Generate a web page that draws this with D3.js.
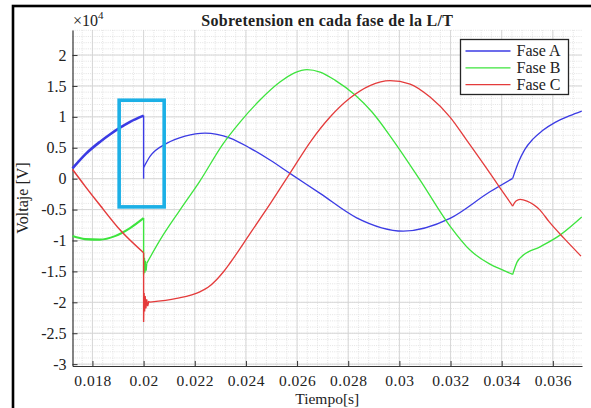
<!DOCTYPE html>
<html lang="es">
<head>
  <meta charset="UTF-8">
  <title>Sobretension en cada fase de la L/T</title>
  <style>
    body { margin: 0; background: #fff; }
    svg { display: block; }
    text { font-family: "Liberation Serif", "Times New Roman", "DejaVu Serif", serif; fill: #222; }
  </style>
</head>
<body>
<div id="chart"></div>
<script src="https://cdn.jsdelivr.net/npm/d3@7"></script>
<script>
  // tiempo [s], voltaje [V]
  const faseA_pre = [[0.01722, 1670], [0.01775, 4060], [0.01829, 5950], [0.01868, 7150], [0.01908, 8250], [0.01947, 9200], [0.02, 10200]];
  const faseA_falla = [[0.02, 10200], [0.02, 0], [0.02, 1800]];
  const faseA_post = [[0.02, 1800], [0.02025, 3600], [0.0209, 5710], [0.02162, 6890], [0.0224, 7380], [0.02338, 6570],
    [0.02416, 4950], [0.02494, 3010], [0.02572, 860], [0.0269, -2380], [0.02833, -6330], [0.03015, -8480],
    [0.03198, -6420], [0.03354, -2120], [0.03443, 50]];
  const faseA_fin = [[0.03443, 50], [0.03465, 2600], [0.0349, 4700], [0.03522, 6400], [0.03557, 7700], [0.03609, 9100],
    [0.03667, 10200], [0.03713, 10940]];

  const faseB_pre = [[0.01722, -9290], [0.01771, -9770], [0.01829, -9850], [0.01888, -9290], [0.01947, -7990], [0.02, -6380]];
  const faseB_falla = [[0.02, -6380], [0.02, -15500], [0.02003, -12800], [0.02005, -15200], [0.02007, -13300], [0.0201, -14900], [0.02012, -13710]];
  const faseB_post = [[0.02012, -13710], [0.02064, -9940], [0.02142, -5080], [0.0222, -390], [0.0231, 5600], [0.02377, 9160],
    [0.02455, 12720], [0.02533, 15630], [0.02592, 17170], [0.02639, 17650], [0.0269, 17250], [0.02748, 15950],
    [0.02827, 13530], [0.02893, 10780], [0.02975, 6250], [0.03081, -230], [0.03198, -7670], [0.03276, -11550],
    [0.03354, -13820], [0.03405, -14790], [0.03443, -15490]];
  const faseB_fin = [[0.03443, -15490], [0.0346, -13500], [0.03485, -12360], [0.0355, -11020], [0.03628, -9130], [0.03713, -6210]];

  const faseC_pre = [[0.01722, 1500], [0.01771, -1200], [0.01829, -4270], [0.01912, -8480], [0.02, -11990]];
  const faseC_falla = [[0.02, -11990], [0.02, -23200], [0.02002, -18500], [0.02004, -21500], [0.02006, -19000], [0.02009, -21000],
    [0.02012, -19500], [0.02016, -20600], [0.0202, -19900], [0.02025, -19970]];
  const faseC_post = [[0.02025, -19970], [0.02129, -19370], [0.0222, -18300], [0.02252, -17570], [0.02286, -16300],
    [0.02314, -14970], [0.02338, -13640], [0.02416, -8900], [0.02494, -4100], [0.02572, 860], [0.02657, 6250],
    [0.02729, 9970], [0.02807, 13040], [0.02885, 15060], [0.02963, 15870], [0.03042, 15310], [0.0312, 13200],
    [0.03198, 9970], [0.03263, 6250], [0.03335, 2040], [0.03394, -1520], [0.03443, -4430]];
  const faseC_fin = [[0.03443, -4430], [0.03456, -3620], [0.03472, -3350], [0.03499, -3620], [0.0355, -5080],
    [0.03586, -7000], [0.03645, -9700], [0.0371, -12520]];

  const nombres = ["Fase A", "Fase B", "Fase C"];
  const xTicks = [0.018, 0.02, 0.022, 0.024, 0.026, 0.028, 0.03, 0.032, 0.034, 0.036];
  const yTicks = [-30000, -25000, -20000, -15000, -10000, -5000, 0, 5000, 10000, 15000, 20000];
  // recuadro resaltado (t0, t1, v0, v1)
  const recuadro = [0.019044, 0.020804, 12690, -4560];

  const width = 591, height = 408;
  const margin = {top: 30, right: 9, bottom: 42, left: 72.5};
  const colores = ["#3b3be4", "#3de43d", "#e43b3b"];
  const serif = '"Liberation Serif", "Times New Roman", serif';

  const svg = d3.select("#chart").append("svg")
    .attr("width", width)
    .attr("height", height);

  svg.append("rect").attr("width", width).attr("height", height).attr("fill", "#fff");

  const xScale = d3.scaleLinear()
    .domain([0.01722, 0.03714])
    .range([margin.left, width - margin.right]);

  const yScale = d3.scaleLinear()
    .domain([-30300, 24050])
    .range([height - margin.bottom, margin.top]);

  const [x0, x1] = xScale.range();
  const [y0, y1] = yScale.range();

  // grid menor
  const xMinor = d3.range(0.0172, 0.0372, 0.0004).filter(t => t > 0.01722 && t < 0.03714);
  const yMinor = d3.range(-30000, 24100, 1000);

  svg.append("g").selectAll("line")
    .data(xMinor).enter().append("line")
    .attr("x1", d => xScale(d)).attr("x2", d => xScale(d))
    .attr("y1", y1).attr("y2", y0)
    .attr("stroke", "#dcdcdc").attr("stroke-width", 0.8).attr("stroke-dasharray", "1,1.2");

  svg.append("g").selectAll("line")
    .data(yMinor).enter().append("line")
    .attr("x1", x0).attr("x2", x1)
    .attr("y1", d => yScale(d)).attr("y2", d => yScale(d))
    .attr("stroke", "#dcdcdc").attr("stroke-width", 0.8).attr("stroke-dasharray", "1,1.2");

  // grid mayor
  svg.append("g").selectAll("line")
    .data(xTicks).enter().append("line")
    .attr("x1", d => xScale(d)).attr("x2", d => xScale(d))
    .attr("y1", y1).attr("y2", y0)
    .attr("stroke", "#d4d4d4").attr("stroke-width", 0.9);

  svg.append("g").selectAll("line")
    .data(yTicks).enter().append("line")
    .attr("x1", x0).attr("x2", x1)
    .attr("y1", d => yScale(d)).attr("y2", d => yScale(d))
    .attr("stroke", "#d4d4d4").attr("stroke-width", 0.9);

  // ejes
  const xAxis = svg.append("g")
    .attr("transform", "translate(0," + y0 + ")")
    .call(d3.axisBottom(xScale).tickValues(xTicks).tickSizeInner(-5).tickSizeOuter(0)
      .tickFormat(d => String(+d.toFixed(3))));
  const yAxis = svg.append("g")
    .attr("transform", "translate(" + x0 + ",0)")
    .call(d3.axisLeft(yScale).tickValues(yTicks).tickSizeInner(-5).tickSizeOuter(0)
      .tickFormat(d => String(d / 10000)));

  [xAxis, yAxis].forEach(g => {
    g.attr("font-family", serif);
    g.select(".domain").attr("stroke", "#333").attr("stroke-width", 1.2);
    g.selectAll(".tick line").attr("stroke", "#333").attr("stroke-width", 1);
    g.selectAll(".tick text")
      .style("font-family", serif)
      .style("font-size", "16px")
      .attr("fill", "#2a2a2a");
  });
  xAxis.selectAll(".tick text").attr("y", 9).attr("letter-spacing", "0.5px").style("font-size", "15.5px");
  yAxis.selectAll(".tick text").attr("x", -6);

  // curvas
  const line = d3.line()
    .x(d => xScale(d[0]))
    .y(d => yScale(d[1]))
    .curve(d3.curveMonotoneX);
  const lineRecta = d3.line()
    .x(d => xScale(d[0]))
    .y(d => yScale(d[1]));

  const fases = [
    [faseA_pre, faseA_falla, faseA_post, faseA_fin],
    [faseB_pre, faseB_falla, faseB_post, faseB_fin],
    [faseC_pre, faseC_falla, faseC_post, faseC_fin]
  ];
  const grosorPre = [2.6, 2.1, 1.5];

  const plot = svg.append("g");
  fases.forEach((f, i) => {
    plot.append("path").datum(f[0])
      .attr("fill", "none").attr("stroke", colores[i]).attr("stroke-width", grosorPre[i])
      .attr("d", line);
    plot.append("path").datum(f[1])
      .attr("fill", "none").attr("stroke", colores[i]).attr("stroke-width", 1.4)
      .attr("d", lineRecta);
    plot.append("path").datum(f[2])
      .attr("fill", "none").attr("stroke", colores[i]).attr("stroke-width", 1.3)
      .attr("d", line);
    plot.append("path").datum(f[3])
      .attr("fill", "none").attr("stroke", colores[i]).attr("stroke-width", 1.3)
      .attr("d", line);
  });

  // recuadro celeste
  svg.append("rect")
    .attr("x", xScale(recuadro[0]))
    .attr("y", yScale(recuadro[2]))
    .attr("width", xScale(recuadro[1]) - xScale(recuadro[0]))
    .attr("height", yScale(recuadro[3]) - yScale(recuadro[2]))
    .attr("fill", "none")
    .attr("stroke", "#1cb0e6")
    .attr("stroke-width", 3.6);

  // leyenda
  const legend = svg.append("g").attr("transform", "translate(460.5,39.5)");
  legend.append("rect")
    .attr("width", 108).attr("height", 55)
    .attr("fill", "#fff").attr("stroke", "#262626").attr("stroke-width", 1.3);
  nombres.forEach((n, i) => {
    const yy = 11.5 + i * 16.8;
    legend.append("line")
      .attr("x1", 5).attr("x2", 50).attr("y1", yy).attr("y2", yy)
      .attr("stroke", colores[i]).attr("stroke-width", 1.3);
    legend.append("text")
      .attr("x", 56).attr("y", yy + 5)
      .style("font-family", serif)
      .style("font-size", "16px")
      .text(n);
  });

  // titulo y etiquetas
  svg.append("text")
    .attr("x", (x0 + x1) / 2).attr("y", 26)
    .attr("text-anchor", "middle")
    .style("font-family", serif)
    .style("font-size", "16px").style("font-weight", "bold")
    .attr("letter-spacing", "0.3px")
    .text("Sobretension en cada fase de la L/T");

  const exp = svg.append("text")
    .attr("x", 73).attr("y", 26)
    .style("font-family", serif)
    .style("font-size", "16px")
    .attr("fill", "#444");
  exp.append("tspan").text("×10");
  exp.append("tspan").attr("dy", -7).style("font-size", "11px").text("4");

  svg.append("text")
    .attr("x", (x0 + x1) / 2).attr("y", 404)
    .attr("text-anchor", "middle")
    .style("font-family", serif)
    .style("font-size", "15.5px")
    .text("Tiempo[s]");

  svg.append("text")
    .attr("transform", "translate(28," + ((y0 + y1) / 2) + ") rotate(-90)")
    .attr("text-anchor", "middle")
    .style("font-family", serif)
    .style("font-size", "16px")
    .text("Voltaje [V]");

  // marco exterior
  svg.append("rect")
    .attr("x", 13).attr("y", 6)
    .attr("width", 640).attr("height", 440)
    .attr("fill", "none")
    .attr("stroke", "#000")
    .attr("stroke-width", 2.6);
</script>
</body>
</html>
